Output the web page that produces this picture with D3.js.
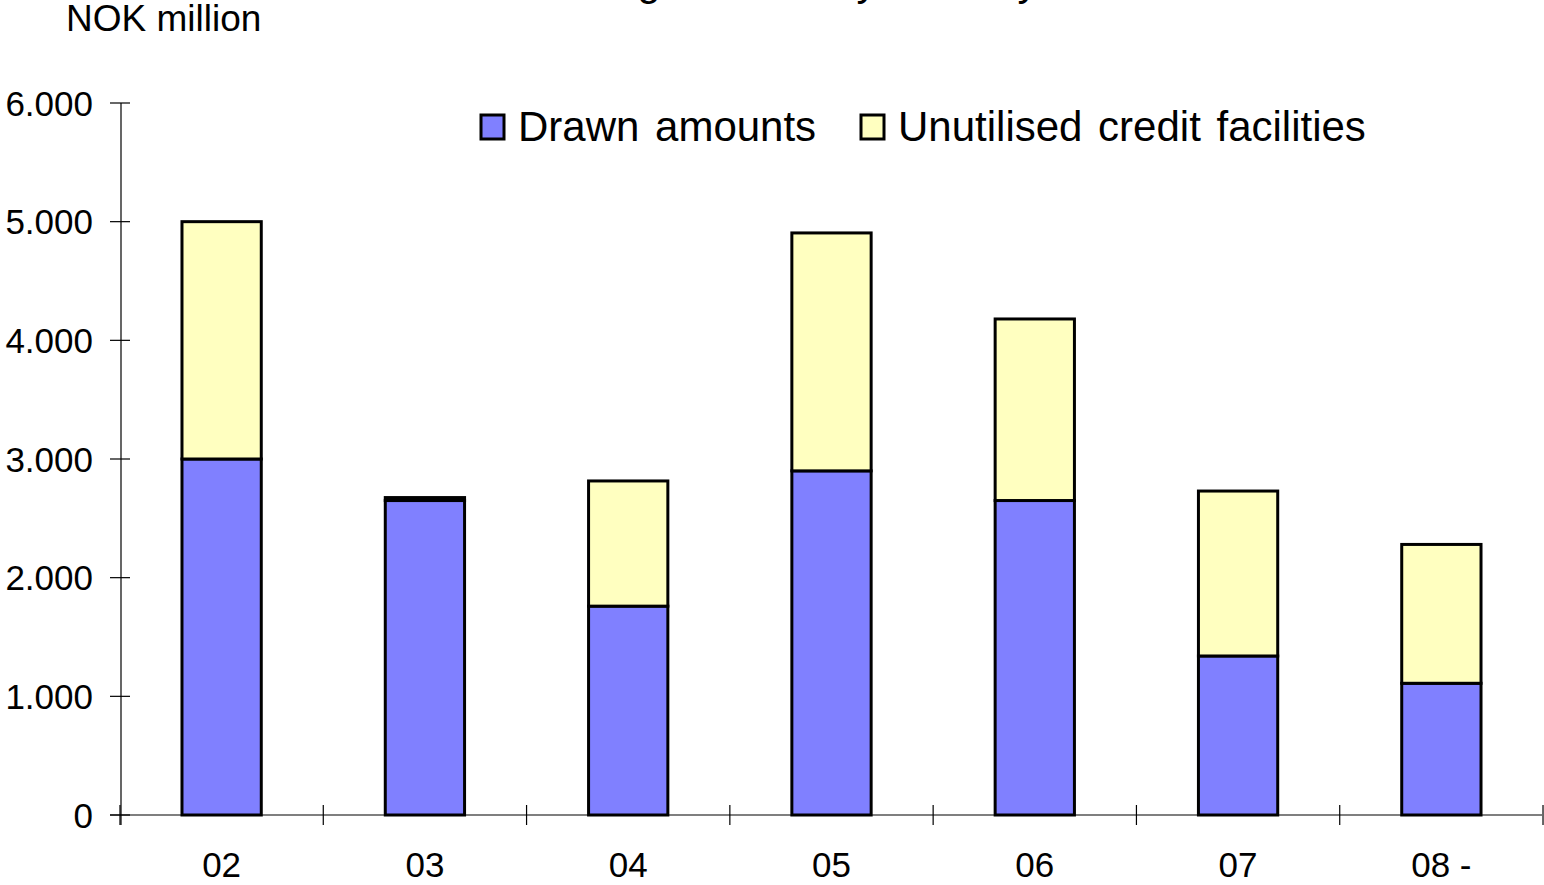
<!DOCTYPE html>
<html>
<head>
<meta charset="utf-8">
<script src="https://cdn.jsdelivr.net/npm/d3@7"></script>
<style>
  html, body { margin: 0; padding: 0; background: #fff; }
  svg { display: block; font-family: "Liberation Sans", Arial, sans-serif; }
</style>
</head>
<body>
<svg id="chart" width="1544" height="885"></svg>
<script>
// Maturity years and amounts (NOK million)
const categories = ["02", "03", "04", "05", "06", "07", "08 -"];
const drawnAmounts = [3000, 2650, 1760, 2900, 2650, 1340, 1110];
const unutilisedFacilities = [2000, 25, 1055, 2005, 1530, 1390, 1170];
const yTicks = [0, 1000, 2000, 3000, 4000, 5000, 6000];
const seriesNames = ["Drawn amounts", "Unutilised credit facilities"];
const seriesColors = ["#8080ff", "#ffffc0"];

const svg = d3.select("#chart");
const margin = { left: 121, right: 2, top: 103, bottom: 70 };
const W = 1544, H = 885;

const x = d3.scaleBand()
  .domain(categories)
  .range([margin.left, W - margin.right])
  .paddingInner(0.61)
  .paddingOuter(0.3);

const y = d3.scaleLinear()
  .domain([0, 6000])
  .range([H - margin.bottom, margin.top]);

const fmt = v => v === 0 ? "0" : d3.format(",")(v).replace(/,/g, ".");

// Title (runs off the top edge, only its descenders remain)
svg.append("text")
  .attr("x", 755).attr("y", -5)
  .attr("text-anchor", "middle")
  .attr("font-size", 42)
  .text("Borrowing facilities by maturity");

svg.append("text")
  .attr("x", 66).attr("y", 31)
  .attr("font-size", 37)
  .text("NOK million");

// Stacked bars
const rows = categories.map((c, i) => ({ cat: c, drawn: drawnAmounts[i], unused: unutilisedFacilities[i] }));
const stack = d3.stack().keys(["drawn", "unused"])(rows);

stack.forEach((layer, li) => {
  svg.append("g").selectAll("rect")
    .data(layer)
    .join("rect")
    .attr("x", d => x(d.data.cat))
    .attr("width", x.bandwidth())
    .attr("y", d => y(d[1]))
    .attr("height", d => y(d[0]) - y(d[1]))
    .attr("fill", seriesColors[li])
    .attr("stroke", "#000")
    .attr("stroke-width", 3);
});

// Y axis
const yAxis = svg.append("g").attr("transform", `translate(${margin.left},0)`);
yAxis.append("line")
  .attr("x1", 0).attr("x2", 0)
  .attr("y1", y(6000)).attr("y2", y(0) + 10)
  .attr("stroke", "#000").attr("stroke-width", 1.2);
yAxis.selectAll(".tick")
  .data(yTicks)
  .join("line")
  .attr("x1", -11).attr("x2", 9)
  .attr("y1", d => y(d)).attr("y2", d => y(d))
  .attr("stroke", "#000").attr("stroke-width", 1.2);
yAxis.selectAll("text")
  .data(yTicks)
  .join("text")
  .attr("x", -28)
  .attr("y", d => y(d))
  .attr("dy", "0.36em")
  .attr("text-anchor", "end")
  .attr("font-size", 35)
  .text(fmt);

// X axis
const xAxis = svg.append("g");
xAxis.append("line")
  .attr("x1", margin.left - 11).attr("x2", W - margin.right)
  .attr("y1", y(0)).attr("y2", y(0))
  .attr("stroke", "#000").attr("stroke-width", 1.2);
const bounds = categories.map(c => x(c) - x.step() * x.paddingInner() / 2)
  .concat([x(categories[categories.length - 1]) + x.bandwidth() + x.step() * x.paddingInner() / 2]);
xAxis.selectAll(".tick")
  .data(bounds)
  .join("line")
  .attr("x1", d => d).attr("x2", d => d)
  .attr("y1", y(0) - 10).attr("y2", y(0) + 10)
  .attr("stroke", "#000").attr("stroke-width", 1.2);
xAxis.selectAll("text")
  .data(categories)
  .join("text")
  .attr("x", d => x(d) + x.bandwidth() / 2)
  .attr("y", 877)
  .attr("text-anchor", "middle")
  .attr("font-size", 35)
  .text(d => d);

// Legend
const legendX = [481, 861];
const lg = svg.append("g");
seriesNames.forEach((name, i) => {
  lg.append("rect")
    .attr("x", legendX[i]).attr("y", 115)
    .attr("width", 23).attr("height", 24)
    .attr("fill", seriesColors[i])
    .attr("stroke", "#000").attr("stroke-width", 3);
  lg.append("text")
    .attr("x", legendX[i] + 37).attr("y", 141)
    .attr("font-size", 42)
    .attr("word-spacing", 4)
    .text(name);
});
</script>
</body>
</html>
